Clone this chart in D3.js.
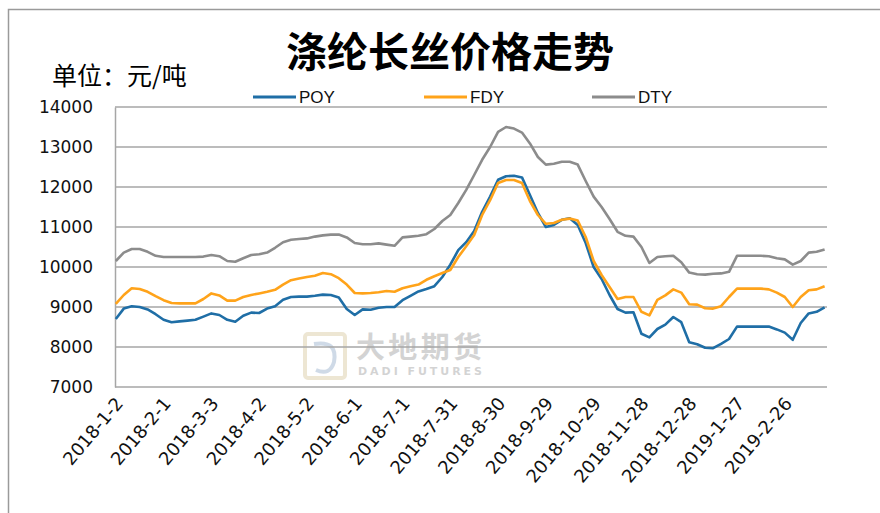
<!DOCTYPE html>
<html>
<head>
<meta charset="utf-8">
<script src="https://cdn.jsdelivr.net/npm/d3@7"></script>
<style>
  html, body { margin: 0; padding: 0; background: #fff; }
  svg { display: block; }
</style>
</head>
<body>
<svg id="chart" width="880" height="513"></svg>
<script>
// Polyester filament yarn prices (yuan / tonne), daily calendar axis from 2018-1-2
const startDay = "2018-01-02";
const dayCount = 447;
const sampleStep = 5; // one reading every five calendar days

const tickLabels = ["2018-1-2", "2018-2-1", "2018-3-3", "2018-4-2", "2018-5-2", "2018-6-1",
  "2018-7-1", "2018-7-31", "2018-8-30", "2018-9-29", "2018-10-29", "2018-11-28",
  "2018-12-28", "2019-1-27", "2019-2-26"];

const yTicks = [7000, 8000, 9000, 10000, 11000, 12000, 13000, 14000];

const seriesNames = ["POY", "FDY", "DTY"];

const poyValues = [8700, 8960, 9020, 9000, 8940, 8820, 8680, 8620, 8640, 8660,
  8680, 8760, 8840, 8800, 8680, 8630, 8780, 8860, 8850, 8960,
  9020, 9180, 9250, 9260, 9260, 9280, 9310, 9300, 9240, 8950,
  8800, 8940, 8930, 8980, 9000, 9000, 9170, 9280, 9390, 9450,
  9520, 9750, 10060, 10420, 10620, 10900, 11380, 11760, 12180, 12270,
  12280, 12240, 11800, 11350, 11000, 11050, 11180, 11220, 11050, 10600,
  10000, 9700, 9300, 8950, 8860, 8870, 8330, 8240, 8450, 8560,
  8750, 8620, 8120, 8070, 7980, 7970, 8080, 8200, 8510, 8510,
  8510, 8510, 8510, 8440, 8360, 8180, 8600, 8840, 8880, 8990];

const fdyValues = [9080, 9300, 9470, 9450, 9380, 9270, 9170, 9100, 9090, 9090,
  9090, 9200, 9340, 9290, 9160, 9160, 9250, 9300, 9340, 9380,
  9430, 9560, 9670, 9710, 9750, 9780, 9850, 9820, 9720, 9560,
  9350, 9340, 9350, 9370, 9400, 9380, 9470, 9520, 9560, 9680,
  9770, 9850, 9925, 10250, 10520, 10800, 11300, 11670, 12100, 12175,
  12175, 12100, 11650, 11300, 11080, 11100, 11180, 11210, 11160, 10750,
  10150, 9800, 9500, 9200, 9250, 9250, 8880, 8790, 9180, 9290,
  9440, 9360, 9070, 9060, 8970, 8960, 9020, 9250, 9460, 9460,
  9460, 9460, 9440, 9360, 9250, 9000, 9250, 9420, 9440, 9520];

const dtyValues = [10150, 10360, 10450, 10450, 10380, 10280, 10250, 10250, 10250, 10250,
  10250, 10260, 10300, 10270, 10150, 10130, 10220, 10300, 10320, 10360,
  10480, 10620, 10680, 10700, 10715, 10760, 10790, 10810, 10810, 10740,
  10600, 10570, 10570, 10590, 10560, 10530, 10740, 10760, 10780, 10820,
  10950, 11150, 11300, 11600, 11930, 12300, 12680, 13000, 13380, 13500,
  13460, 13360, 13090, 12750, 12560, 12580, 12630, 12630, 12560, 12150,
  11760, 11500, 11200, 10880, 10780, 10760, 10500, 10100, 10250, 10270,
  10280, 10120, 9860, 9820, 9810, 9830, 9840, 9880, 10280, 10280,
  10280, 10280, 10270, 10220, 10190, 10060, 10150, 10360, 10380, 10440];

const seriesColors = ["#1f6ea6", "#ffa31a", "#8c8c8c"];

// ---- categories ----
const fmt = d => `${d.getFullYear()}-${d.getMonth() + 1}-${d.getDate()}`;
const start = d3.timeParse("%Y-%m-%d")(startDay);
const days = d3.timeDay.range(start, d3.timeDay.offset(start, dayCount)).map(fmt);
const sampleDays = days.filter((d, i) => i % sampleStep === 0).slice(0, poyValues.length);

const series = [poyValues, fdyValues, dtyValues].map((vals, s) => ({
  name: seriesNames[s],
  color: seriesColors[s],
  points: vals.map((v, i) => ({ day: sampleDays[i], value: v }))
}));

// ---- layout ----
const svg = d3.select("#chart");
const plot = { left: 115, right: 827, top: 107, bottom: 387 };

const x = d3.scaleBand().domain(days).range([plot.left, plot.right]);
const y = d3.scaleLinear().domain([7000, 14000]).range([plot.bottom, plot.top]);

// outer frame
svg.append("path")
  .attr("d", "M8.5,513 V9.5 H880")
  .attr("fill", "none").attr("stroke", "#9a9a9a").attr("stroke-width", 1.5);

// title and unit
svg.append("text")
  .attr("x", 450).attr("y", 67)
  .attr("text-anchor", "middle")
  .attr("font-family", "'Noto Sans CJK SC', sans-serif")
  .attr("font-weight", "bold")
  .attr("font-size", 41)
  .attr("fill", "#000")
  .text("涤纶长丝价格走势");

svg.append("text")
  .attr("x", 52).attr("y", 85)
  .attr("font-family", "'Noto Sans CJK SC', sans-serif")
  .attr("font-size", 25)
  .attr("fill", "#000")
  .text("单位：元/吨");

// watermark
const wm = svg.append("g").attr("opacity", 0.32);
wm.append("rect").attr("x", 305).attr("y", 334).attr("width", 40).attr("height", 44)
  .attr("rx", 3).attr("fill", "none").attr("stroke", "#c9b27a").attr("stroke-width", 4);
wm.append("path").attr("d", "M314,344 Q338,340 334,362 Q330,376 316,370")
  .attr("fill", "none").attr("stroke", "#6d8fb8").attr("stroke-width", 4);
wm.append("text").attr("x", 356).attr("y", 358)
  .attr("font-family", "'Noto Sans CJK SC', sans-serif").attr("font-weight", "bold")
  .attr("font-size", 29).attr("fill", "#7a7a7a").attr("textLength", 126)
  .text("大地期货");
wm.append("text").attr("x", 358).attr("y", 375)
  .attr("font-family", "'DejaVu Sans', sans-serif").attr("font-weight", "bold")
  .attr("font-size", 11).attr("fill", "#7a7a7a").attr("textLength", 124)
  .text("DADI FUTURES");

// gridlines
svg.append("g")
  .selectAll("line").data(yTicks).join("line")
  .attr("x1", plot.left).attr("x2", plot.right)
  .attr("y1", d => y(d)).attr("y2", d => y(d))
  .attr("stroke", "#a6a6a6").attr("stroke-width", 1.5);

// y axis
const yAxis = svg.append("g")
  .attr("transform", `translate(${plot.left},0)`)
  .call(d3.axisLeft(y).tickValues(yTicks).tickSize(0).tickPadding(22).tickFormat(d3.format("d")));
yAxis.select(".domain").attr("stroke", "#a6a6a6").attr("stroke-width", 1.5);
yAxis.selectAll("text")
  .attr("font-family", "'DejaVu Sans', sans-serif")
  .attr("font-size", 17).attr("fill", "#111");

// x axis
const xAxis = svg.append("g")
  .attr("transform", `translate(0,${plot.bottom})`)
  .call(d3.axisBottom(x).tickValues(tickLabels).tickSize(0).tickFormat(d => d));
xAxis.select(".domain").remove();
xAxis.selectAll("text")
  .attr("font-family", "'DejaVu Sans', sans-serif")
  .attr("font-size", 18).attr("fill", "#111")
  .attr("text-anchor", "end")
  .attr("dy", 0)
  .attr("transform", "translate(6,15) rotate(-50)");

// series lines
const line = d3.line()
  .x(d => x(d.day) + x.bandwidth() / 2)
  .y(d => y(d.value));

svg.append("g").selectAll("path").data(series).join("path")
  .attr("d", d => line(d.points))
  .attr("fill", "none")
  .attr("stroke", d => d.color)
  .attr("stroke-width", 2.6)
  .attr("stroke-linejoin", "round");

// legend
const legendX = [253, 424, 592];
const lg = svg.append("g").selectAll("g").data(series).join("g")
  .attr("transform", (d, i) => `translate(${legendX[i]},97)`);
lg.append("line").attr("x1", 0).attr("x2", 43)
  .attr("stroke", d => d.color).attr("stroke-width", 3);
lg.append("text").attr("x", 46).attr("y", 6)
  .attr("font-family", "'Liberation Sans Narrow', 'Liberation Sans', sans-serif")
  .attr("font-size", 17).attr("fill", "#111")
  .text(d => d.name);
</script>
</body>
</html>
